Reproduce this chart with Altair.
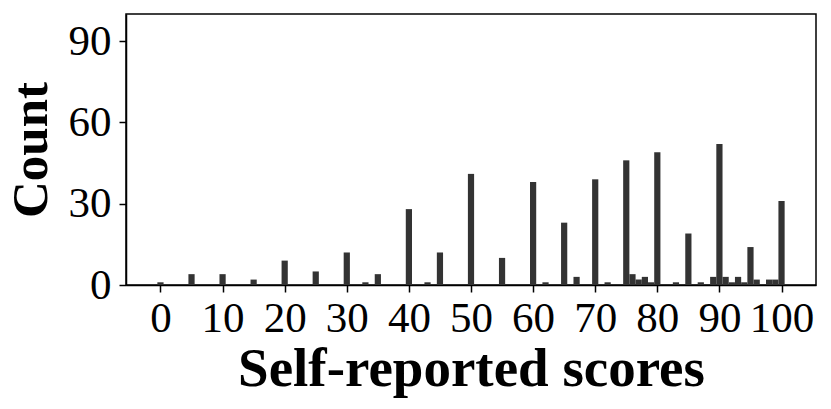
import altair as alt
import pandas as pd

scores = [0, 5, 10, 15, 20, 25, 30, 33, 35, 40, 43, 45, 50, 55, 60, 62, 65, 67, 70, 72,
          75, 76, 77, 78, 79, 80, 83, 85, 87, 89, 90, 91, 92, 93, 94, 95, 96, 98, 99, 100]
counts = [1, 4, 4, 2, 9, 5, 12, 1, 4, 28, 1, 12, 41, 10, 38, 1, 23, 3, 39, 1,
          46, 4, 2, 3, 1, 49, 1, 19, 1, 3, 52, 3, 1, 3, 1, 14, 2, 2, 2, 31]
x_ticks = [0, 10, 20, 30, 40, 50, 60, 70, 80, 90, 100]
y_ticks = [0, 30, 60, 90]

df = pd.DataFrame({"score": scores, "count": counts})
df["lo"] = df["score"] - 0.5
df["hi"] = df["score"] + 0.5

FONT = "Liberation Serif"

chart = alt.Chart(df).mark_bar(color="#333333", opacity=1).encode(
    x=alt.X("lo:Q",
            scale=alt.Scale(domain=[-5.55, 105.55], nice=False, zero=False),
            axis=alt.Axis(values=x_ticks, title="Self-reported scores",
                          labelFontSize=43, labelFont=FONT, labelColor="black",
                          labelPadding=5, tickSize=7, tickColor="black", tickWidth=1.5,
                          domainColor="black", domainWidth=1.5, grid=False,
                          titleFont=FONT, titleFontSize=55, titleFontWeight="bold",
                          titleColor="black", titleX=345, titleY=100,
                          titleBaseline="alphabetic", titleAlign="center",
                          labelFlush=False, labelOverlap=False)),
    x2="hi:Q",
    y=alt.Y("count:Q",
            scale=alt.Scale(domain=[0, 100], nice=False),
            axis=alt.Axis(values=y_ticks, title="Count",
                          labelFontSize=43, labelFont=FONT, labelColor="black",
                          labelPadding=8, tickSize=7, tickColor="black", tickWidth=1.5,
                          domainColor="black", domainWidth=1.5, grid=False,
                          titleFont=FONT, titleFontSize=51, titleFontWeight="bold",
                          titleColor="black", titleX=-80, titleY=135.5, titleAngle=-90,
                          titleBaseline="alphabetic", titleAlign="center",
                          labelFlush=False, labelOverlap=False)),
    y2=alt.datum(0),
).properties(
    width=690, height=271,
    autosize=alt.AutoSizeParams(type="none"),
    padding={"left": 118, "top": 6, "right": 5, "bottom": 118},
).configure(
    background="white",
    view=alt.ViewConfig(stroke="black", strokeWidth=1.5),
)

chart.save("out.html", embed_options={"renderer": "svg", "actions": False})
